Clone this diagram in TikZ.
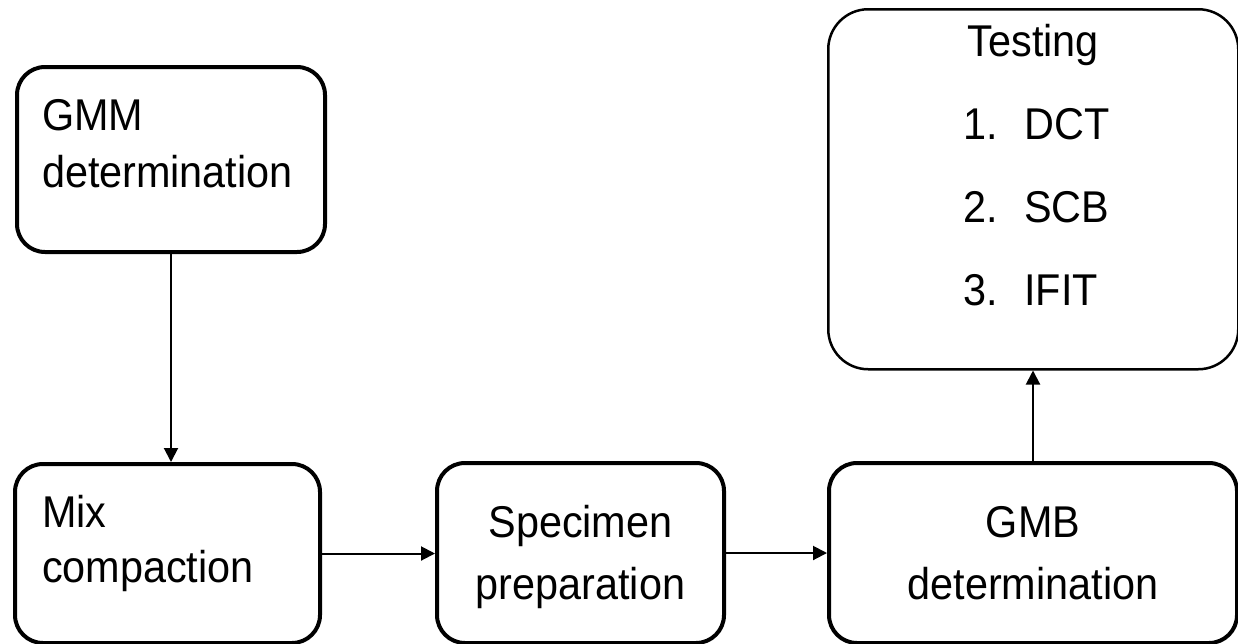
\documentclass[tikz,border=0pt]{standalone}
\usepackage{fontspec}
\setmainfont[FakeStretch=0.93]{Liberation Sans}
\usetikzlibrary{arrows.meta}

\newcommand{\testitem}[2]{\makebox[140pt][l]{\makebox[61pt][l]{#1}#2}}

\begin{document}
\begin{tikzpicture}[x=1pt, y=-1pt,
	stagebox/.style={draw, line width=4pt, rounded corners=28pt, inner xsep=20pt, inner ysep=0pt, anchor=north west},
	flow/.style={-{Triangle[length=14pt, width=14pt]}, line width=2pt}]

	\useasboundingbox (0,0) rectangle (1238,643);

	% stages
	\node[stagebox, inner xsep=25pt, text width=258pt, align=left, text height=63pt, text depth=122pt,
		font=\fontsize{44.5}{57}\selectfont] (gmm) at (15,65) {GMM\\determination};
	\node[stagebox, inner xsep=27pt, text width=251pt, align=left, text height=63pt, text depth=116pt,
		font=\fontsize{44.5}{55}\selectfont] (mix) at (13,462) {Mix\\compaction};
	\node[stagebox, text width=247pt, align=center, text height=74pt, text depth=106pt,
		font=\fontsize{44.5}{62}\selectfont] (spec) at (435,461) {Specimen\\preparation};
	\node[stagebox, text width=368pt, align=center, text height=74pt, text depth=106pt,
		font=\fontsize{44.5}{62}\selectfont] (gmb) at (827,461) {GMB\\determination};

	% tests
	\node[stagebox, line width=2.5pt, rounded corners=40pt, text width=370pt, align=center,
		text height=47pt, text depth=313pt, font=\fontsize{44.5}{83}\selectfont] (test) at (827,8)
		{Testing\\\testitem{1.}{DCT}\\\testitem{2.}{SCB}\\\testitem{3.}{IFIT}};

	% arrows
	\draw[flow] (gmm.south) -- (gmm.south |- mix.north);
	\draw[flow] (mix.east) -- (mix.east -| spec.west);
	\draw[flow] (spec.east) -- (spec.east -| gmb.west);
	\draw[flow] (gmb.north) -- (gmb.north |- test.south);

\end{tikzpicture}
\end{document}
